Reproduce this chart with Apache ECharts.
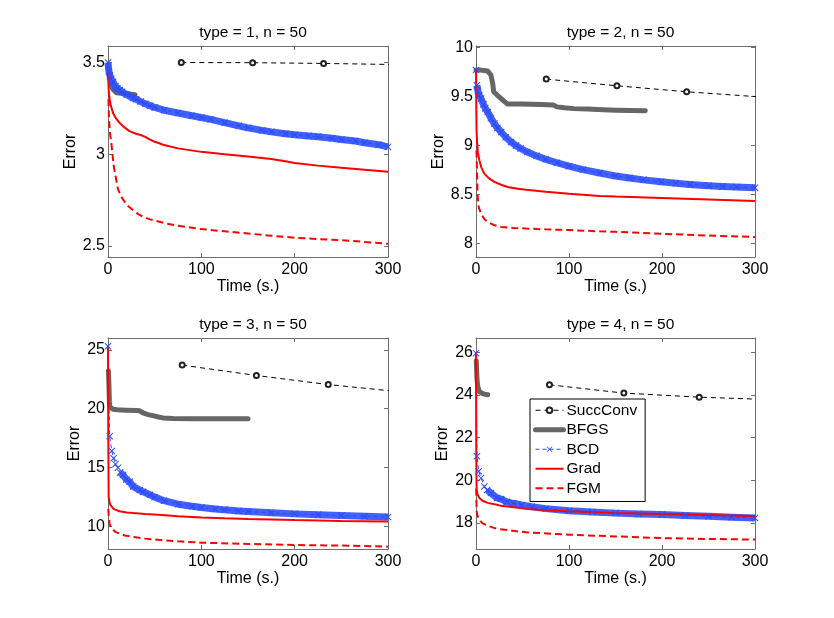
<!DOCTYPE html>
<html><head><meta charset="utf-8">
<script src="https://cdn.jsdelivr.net/npm/echarts@6/dist/echarts.min.js"></script>
<style>html,body{margin:0;padding:0;background:#fff}#c{width:834px;height:618px}</style>
</head><body><div id="c"></div><script>
// ---------- data ----------
const titles = ['type = 1, n = 50', 'type = 2, n = 50', 'type = 3, n = 50', 'type = 4, n = 50'];
const xTicks = [0, 100, 200, 300];
const yTicks1 = [2.5, 3, 3.5];
const yTicks2 = [8, 8.5, 9, 9.5, 10];
const yTicks3 = [10, 15, 20, 25];
const yTicks4 = [18, 20, 22, 24, 26];

// plot 1
const succT1 = [78.5, 155, 231, 308];
const succV1 = [3.500, 3.499, 3.495, 3.489];
const bfgsT1 = [0, 1, 2, 3.6, 6, 9, 15, 20, 25, 29];
const bfgsV1 = [3.47, 3.45, 3.41, 3.37, 3.35, 3.335, 3.332, 3.330, 3.327, 3.325];
const bcdT1 = [0,1,2,3.5,5.4,8,10,12.5,15,20,26.8,30,35,40,45,50,60,75,90,100,110,125,140,150,165,175,190,200,215,225,240,250,265,275,290,300];
const bcdV1 = [3.50,3.45,3.43,3.41,3.395,3.37,3.36,3.35,3.34,3.325,3.306,3.30,3.287,3.275,3.265,3.255,3.24,3.225,3.21,3.20,3.19,3.172,3.155,3.144,3.13,3.122,3.112,3.106,3.10,3.095,3.087,3.08,3.072,3.063,3.052,3.04];
const gradT1 = [0,0.5,1,1.8,3,5.4,8,12.5,18,23,30,35,40,45,50,55,60,75,100,125,150,175,190,200,225,250,275,300];
const gradV1 = [3.45,3.38,3.33,3.30,3.265,3.225,3.20,3.17,3.145,3.126,3.112,3.105,3.095,3.08,3.068,3.06,3.05,3.032,3.013,3.0,2.988,2.974,2.962,2.952,2.938,2.927,2.916,2.905];
const fgmT1 = [0.5,1,2,3.6,6,8.5,10.7,14,18,22,27,32,37.5,45,54,65,75,100,125,150,175,200,225,250,275,300];
const fgmV1 = [3.30,3.2,3.12,3.06,2.94,2.87,2.81,2.77,2.74,2.715,2.695,2.675,2.66,2.645,2.633,2.62,2.61,2.592,2.58,2.568,2.556,2.545,2.538,2.532,2.522,2.512];

// plot 2
const succT2 = [75.5, 151.5, 226.5, 302];
const succV2 = [9.678, 9.61, 9.549, 9.499];
const bfgsT2 = [0,5,12.6,16,18,19,21,23.3,27,30.5,34,50,70,83,87,95,105,120,137,150,166,182];
const bfgsV2 = [9.77,9.77,9.76,9.72,9.63,9.55,9.53,9.51,9.48,9.45,9.425,9.424,9.42,9.415,9.395,9.385,9.377,9.372,9.365,9.36,9.357,9.356];
const bcdT2 = [0,1,2,3.5,5.4,8,10,12.6,16,19.7,23,27,32,37.6,43,48,55,65,75,87,100,115,133,150,165,180,199,215,230,250,265,280,300];
const bcdV2 = [9.77,9.615,9.56,9.51,9.48,9.42,9.38,9.343,9.28,9.224,9.18,9.139,9.085,9.037,9.0,8.97,8.935,8.895,8.86,8.825,8.79,8.755,8.72,8.69,8.67,8.65,8.63,8.615,8.603,8.59,8.583,8.577,8.57];
const gradT2 = [0,0.3,0.6,1.1,2,3.6,6,9,14,19.8,27,34,45,54,75,100,133,150,200,250,300];
const gradV2 = [9.77,9.4,9.15,9.054,8.93,8.85,8.77,8.714,8.665,8.629,8.6,8.578,8.56,8.55,8.53,8.508,8.486,8.48,8.465,8.45,8.434];
const fgmT2 = [0.5,1,1.8,3,5.4,9,12.6,19,27,40,54,75,100,133,150,200,250,300];
const fgmV2 = [8.95,8.78,8.476,8.37,8.306,8.25,8.22,8.19,8.17,8.16,8.153,8.145,8.138,8.125,8.12,8.1,8.082,8.067];

// plot 3
const succT3 = [79.5, 159, 236, 315];
const succV3 = [23.70, 22.82, 22.05, 21.42];
const bfgsT3 = [0.5,1,1.5,2,3,5.4,10,19.6,30,34,37.5,43,48,54,59,70,91,120,150];
const bfgsV3 = [23.2,22.0,20.6,20.15,20.0,19.95,19.92,19.88,19.84,19.82,19.64,19.5,19.41,19.3,19.22,19.18,19.16,19.16,19.16];
const bcdT3 = [0,1.8,4,6,8,10.7,13,16,19.6,23.2,27,34,37.5,45,50,60,75,90,100,115,125,140,150,175,200,225,250,275,300];
const bcdV3 = [25.3,17.67,16.42,15.8,15.3,15.0,14.6,14.38,14.0,13.8,13.4,13.1,12.95,12.7,12.5,12.2,11.9,11.72,11.62,11.5,11.42,11.33,11.28,11.17,11.08,11.0,10.94,10.88,10.82];
const gradT3 = [0,0.3,0.7,1.5,2.5,3.6,6,9,12.5,20,27,40,54,75,100,125,150,200,250,300];
const gradV3 = [25.3,18,12.56,12.1,11.85,11.7,11.5,11.4,11.3,11.2,11.15,11.07,11.0,10.88,10.77,10.7,10.65,10.56,10.48,10.43];
const fgmT3 = [0.3,0.7,1.8,3,5.4,8,12.5,18,27,40,54,75,100,150,200,250,300];
const fgmV3 = [11.5,11.0,10.2,9.95,9.75,9.55,9.4,9.25,9.12,8.98,8.88,8.75,8.64,8.53,8.44,8.39,8.30];

// plot 4
const succT4 = [79, 159, 240, 320];
const succV4 = [24.47, 24.08, 23.89, 23.77];
const bfgsT4 = [0.3,1,1.8,3.6,6,9,12.6];
const bfgsV4 = [25.6,24.8,24.4,24.16,24.08,24.03,24.0];
const bcdT4 = [0,1,2.9,5.4,9,12,16,22.6,27,33,40,49,60,75,100,125,150,175,200,225,250,275,300];
const bcdV4 = [25.95,21.12,20.42,20.1,19.71,19.54,19.4,19.17,19.12,18.99,18.92,18.84,18.76,18.67,18.57,18.51,18.46,18.42,18.39,18.35,18.31,18.27,18.23];
const gradT4 = [0,0.3,0.7,1.5,3.6,7,12.6,22.6,27,54,75,100,150,200,250,300];
const gradV4 = [26.0,21,19.56,19.35,19.17,19.04,18.94,18.85,18.8,18.66,18.6,18.55,18.47,18.42,18.37,18.32];
const fgmT4 = [0.2,0.7,1.5,3.6,7,12.6,22.6,54,100,150,200,250,300];
const fgmV4 = [19.6,18.54,18.35,18.15,17.98,17.87,17.72,17.56,17.45,17.37,17.29,17.25,17.22];

// ---------- layout / style ----------
const FONT = '"Liberation Sans", Arial, Helvetica, sans-serif';
const grids = [
  {left: 108, top: 46, width: 280, height: 211},
  {left: 476, top: 46, width: 279, height: 211},
  {left: 108, top: 338, width: 280, height: 211},
  {left: 476, top: 338, width: 279, height: 211}
];
const yLims = [[2.44, 3.59], [7.863, 10.016], [8.1, 26.0], [16.78, 26.66]];
const yTickSets = [yTicks1, yTicks2, yTicks3, yTicks4];
const yNameGaps = [27, 28, 25, 25];
const bandFrom = [0, 1, 13, 12];
const plots = [
  {succ:[succT1,succV1], bfgs:[bfgsT1,bfgsV1], bcd:[bcdT1,bcdV1], grad:[gradT1,gradV1], fgm:[fgmT1,fgmV1]},
  {succ:[succT2,succV2], bfgs:[bfgsT2,bfgsV2], bcd:[bcdT2,bcdV2], grad:[gradT2,gradV2], fgm:[fgmT2,fgmV2]},
  {succ:[succT3,succV3], bfgs:[bfgsT3,bfgsV3], bcd:[bcdT3,bcdV3], grad:[gradT3,gradV3], fgm:[fgmT3,fgmV3]},
  {succ:[succT4,succV4], bfgs:[bfgsT4,bfgsV4], bcd:[bcdT4,bcdV4], grad:[gradT4,gradV4], fgm:[fgmT4,fgmV4]}
];
const pair = (t, v) => t.map((x, i) => [x, v[i]]);
const X_PATH = 'path://M0,1L1,0L5,4L9,0L10,1L6,5L10,9L9,10L5,6L1,10L0,9L4,5Z';
const AX = '#6e6e6e';
const BLUE = '#2a4cff';

const xAxes = [], yAxes = [], series = [], titleArr = [];
grids.forEach((g, i) => {
  const common = {min: 0, max: 300, interval: 100, splitLine: {show: false},
    axisLine: {show: true, onZero: false, lineStyle: {color: AX, width: 1}},
    axisTick: {show: true, inside: true, length: 4, lineStyle: {color: AX}}};
  xAxes.push(Object.assign({}, common, {type: 'value', gridIndex: i, position: 'bottom',
    name: 'Time (s.)', nameLocation: 'middle', nameGap: 19,
    nameTextStyle: {fontFamily: FONT, fontSize: 16, color: '#000'},
    axisLabel: {show: true, margin: 5, fontFamily: FONT, fontSize: 16, color: '#000'}}));
  xAxes.push(Object.assign({}, common, {type: 'value', gridIndex: i, position: 'top', axisLabel: {show: false}}));
  const [ymin, ymax] = yLims[i];
  const yc = {type: 'value', gridIndex: i, min: ymin, max: ymax, splitLine: {show: false},
    axisLine: {show: true, onZero: false, lineStyle: {color: AX, width: 1}},
    axisTick: {show: true, inside: true, length: 4, lineStyle: {color: AX}, customValues: yTickSets[i]}};
  yAxes.push(Object.assign({}, yc, {position: 'left', name: 'Error', nameLocation: 'middle', nameGap: yNameGaps[i],
    nameTextStyle: {fontFamily: FONT, fontSize: 16, color: '#000'},
    axisLabel: {show: true, margin: 3, fontFamily: FONT, fontSize: 16, color: '#000', customValues: yTickSets[i]}}));
  yAxes.push(Object.assign({}, yc, {position: 'right', axisLabel: {show: false}}));
  titleArr.push({text: titles[i], left: g.left + g.width / 2, top: g.top - 26, textAlign: 'center',
    textStyle: {fontFamily: FONT, fontSize: 15.5, fontWeight: 'normal', color: '#000'}});

  const p = plots[i];
  const base = {type: 'line', xAxisIndex: 2 * i, yAxisIndex: 2 * i, animation: false, clip: true,
    emphasis: {disabled: true}, silent: true};
  series.push(Object.assign({}, base, {name: 'SuccConv', data: pair(p.succ[0], p.succ[1]),
    symbol: 'emptyCircle', symbolSize: 5, showSymbol: true,
    itemStyle: {color: '#222', borderWidth: 1},
    lineStyle: {color: '#000', width: 1, type: [5, 4]}}));
  series.push(Object.assign({}, base, {name: 'BFGS', data: pair(p.bfgs[0], p.bfgs[1]), symbol: 'none',
    itemStyle: {color: '#666'}, lineStyle: {color: '#666', width: 5, cap: 'round', join: 'round'}}));
  const bcdData = pair(p.bcd[0], p.bcd[1]);
  series.push(Object.assign({}, base, {name: 'BCD band', data: bcdData.filter(d => d[0] >= bandFrom[i]), symbol: 'none',
    lineStyle: {color: 'rgba(45,80,255,0.9)', width: 7, join: 'round'}}));
  series.push(Object.assign({}, base, {name: 'BCD', data: bcdData, symbol: X_PATH, symbolSize: 7, showSymbol: true,
    itemStyle: {color: BLUE}, lineStyle: {color: BLUE, width: 1, type: [4, 3]}}));
  series.push(Object.assign({}, base, {name: 'Grad', data: pair(p.grad[0], p.grad[1]), symbol: 'none',
    itemStyle: {color: '#ff0000'}, lineStyle: {color: '#ff0000', width: 2}}));
  series.push(Object.assign({}, base, {name: 'FGM', data: pair(p.fgm[0], p.fgm[1]), symbol: 'none',
    itemStyle: {color: '#ff0000'}, lineStyle: {color: '#ff0000', width: 2, type: [7, 4]}}));
});

const NOSYM = {color: 'rgba(0,0,0,0)', borderWidth: 0};
const chart = echarts.init(document.getElementById('c'), null, {renderer: 'canvas'});
chart.setOption({
  animation: false,
  backgroundColor: '#fff',
  title: titleArr,
  grid: grids.map(g => Object.assign({containLabel: false}, g)),
  xAxis: xAxes,
  yAxis: yAxes,
  legend: {
    data: [
      {name: 'SuccConv', lineStyle: {width: 1, type: [5, 4]}},
      {name: 'BFGS', itemStyle: NOSYM, lineStyle: {width: 5, color: '#666'}},
      {name: 'BCD', lineStyle: {width: 1, type: [4, 3]}},
      {name: 'Grad', itemStyle: NOSYM, lineStyle: {width: 2}},
      {name: 'FGM', itemStyle: NOSYM, lineStyle: {width: 2, type: [7, 4]}}
    ],
    orient: 'vertical', left: 530, top: 399,
    padding: [3, 8, 5, 3], itemWidth: 28, itemHeight: 7, itemGap: 3,
    borderColor: '#000', borderWidth: 1, backgroundColor: '#fff',
    selectedMode: false, z: 10,
    textStyle: {fontFamily: FONT, fontSize: 15.5, lineHeight: 16.5, color: '#000', padding: [0, 0, 0, -2]}
  },
  series: series
});
</script></body></html>
